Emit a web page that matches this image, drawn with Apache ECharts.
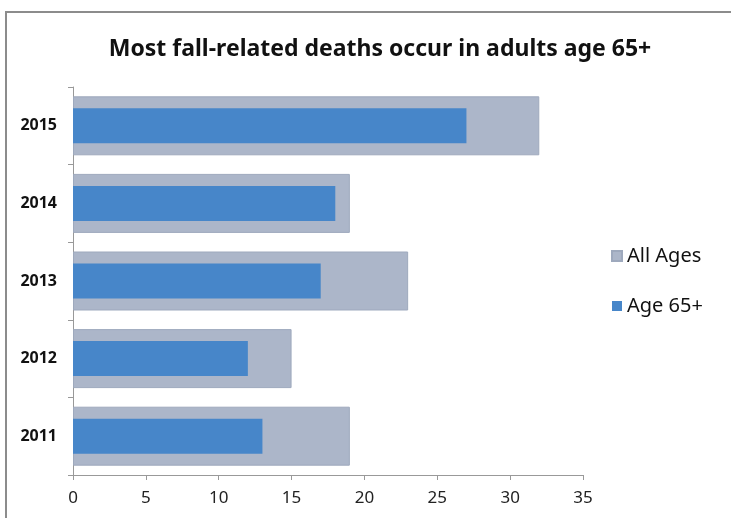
<!DOCTYPE html>
<html>
<head>
<meta charset="utf-8">
<script src="https://cdn.jsdelivr.net/npm/echarts@6/dist/echarts.min.js"></script>
<style>html,body{margin:0;padding:0;background:#fff;}#c{width:731px;height:518px;}</style>
</head>
<body>
<div id="c"></div>
<script>
const years = ['2011', '2012', '2013', '2014', '2015'];
const allAges = [19, 15, 23, 19, 32];
const age65 = [13, 12, 17, 18, 27];
const xTicks = [0, 5, 10, 15, 20, 25, 30, 35];

const chart = echarts.init(document.getElementById('c'));
const font = 'Noto Sans';
chart.setOption({
  animation: false,
  backgroundColor: '#fff',
  title: {
    text: 'Most fall-related deaths occur in adults age 65+',
    left: 375, textAlign: 'center', top: 33,
    textStyle: { fontFamily: font, fontSize: 23, fontWeight: 'bold', color: '#111' }
  },
  graphic: [
    { type: 'line', shape: { x1: 5, y1: 12, x2: 731, y2: 12 }, style: { stroke: '#8c8c8c', lineWidth: 2 } },
    { type: 'line', shape: { x1: 6, y1: 12, x2: 6, y2: 518 }, style: { stroke: '#8c8c8c', lineWidth: 2 } }
  ],
  legend: {
    orient: 'vertical', left: 606, top: 241, itemGap: 30,
    itemWidth: 10, itemHeight: 10, icon: 'rect',
    textStyle: { fontFamily: font, fontSize: 20, color: '#111' },
    data: ['All Ages', 'Age 65+']
  },
  grid: { left: 73, right: 148, top: 87, bottom: 43 },
  xAxis: {
    type: 'value', min: 0, max: 35, interval: 5,
    axisLine: { show: true, lineStyle: { color: '#999' } },
    axisTick: { show: true, length: 5, lineStyle: { color: '#999' } },
    splitLine: { show: false },
    axisLabel: {
      show: true, fontFamily: font, fontSize: 17, color: '#222', margin: 15,
      formatter: function (v) { return xTicks.indexOf(v) >= 0 ? String(v) : ''; }
    }
  },
  yAxis: [{
    type: 'category', data: years,
    axisLine: { show: true, lineStyle: { color: '#999' } },
    axisTick: { show: true, length: 5, lineStyle: { color: '#999' } },
    axisLabel: { fontFamily: font, fontSize: 16, fontWeight: 'bold', color: '#111', margin: 16 }
  }, {
    type: 'category', data: years, show: false
  }],
  series: [{
    name: 'All Ages', type: 'bar', yAxisIndex: 0, data: allAges, barWidth: 59,
    itemStyle: { color: '#acb6c9', borderColor: '#9ea9bd', borderWidth: 1 }
  }, {
    name: 'Age 65+', type: 'bar', yAxisIndex: 1, data: age65, barWidth: 35,
    itemStyle: { color: '#4786c9' }
  }]
});
</script>
</body>
</html>
